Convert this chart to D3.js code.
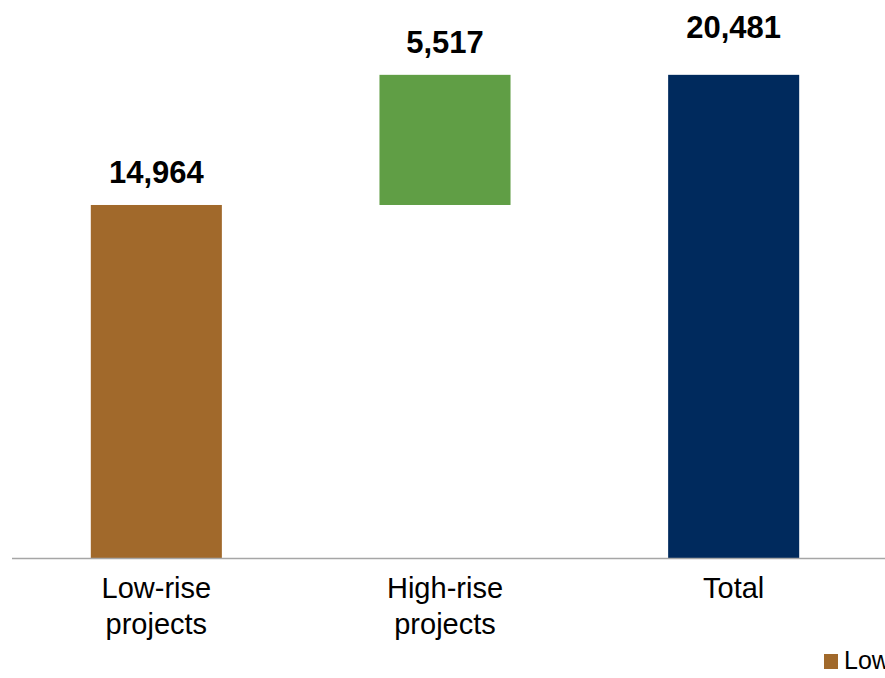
<!DOCTYPE html>
<html>
<head>
<meta charset="utf-8">
<script src="https://cdn.jsdelivr.net/npm/d3@7"></script>
<style>
  body { margin: 0; background: #fff; }
  svg { display: block; font-family: Arial, "Liberation Sans", sans-serif; }
</style>
</head>
<body>
<div id="chart"></div>
<script>
// chart values
var categories = ["Low-rise projects", "High-rise projects", "Total"];
var values = [14964, 5517, 20481];
var isTotal = [false, false, true];
var colors = ["#A1692B", "#609E45", "#002A5D"];

var width = 885, height = 678;

var svg = d3.select("#chart")
  .append("svg")
    .attr("width", width)
    .attr("height", height);

// running base for the waterfall steps
var running = 0;
var bars = categories.map(function (c, i) {
  var start = isTotal[i] ? 0 : running;
  var end = isTotal[i] ? values[i] : running + values[i];
  if (!isTotal[i]) running = end;
  return { name: c, value: values[i], start: start, end: end, color: colors[i], total: isTotal[i] };
});

var x = d3.scaleBand()
  .domain(categories)
  .range([12, 878])
  .paddingInner(0.546)
  .paddingOuter(0.273);

var y = d3.scaleLinear()
  .domain([0, 22000])
  .range([558, 39]);

svg.selectAll("rect.bar")
  .data(bars)
  .enter()
  .append("rect")
    .attr("class", "bar")
    .attr("x", function (d) { return x(d.name); })
    .attr("y", function (d) { return y(d.end); })
    .attr("width", x.bandwidth())
    .attr("height", function (d) { return y(d.start) - y(d.end); })
    .attr("fill", function (d) { return d.color; });

// axis baseline
svg.append("line")
  .attr("x1", 12)
  .attr("x2", width)
  .attr("y1", y(0) + 0.5)
  .attr("y2", y(0) + 0.5)
  .attr("stroke", "#a6a6a6")
  .attr("stroke-width", 1.5);

// value labels
svg.selectAll("text.value")
  .data(bars)
  .enter()
  .append("text")
    .attr("class", "value")
    .attr("x", function (d) { return x(d.name) + x.bandwidth() / 2; })
    .attr("y", function (d) { return y(d.end) - (d.total ? 37 : 22); })
    .attr("text-anchor", "middle")
    .attr("font-size", 31)
    .attr("font-weight", "bold")
    .attr("fill", "#000")
    .text(function (d) { return d3.format(",")(d.value); });

// category labels, wrapped on the space
var cat = svg.selectAll("text.cat")
  .data(bars)
  .enter()
  .append("text")
    .attr("class", "cat")
    .attr("x", function (d) { return x(d.name) + x.bandwidth() / 2; })
    .attr("y", 598)
    .attr("text-anchor", "middle")
    .attr("font-size", 29)
    .attr("fill", "#000");

cat.each(function (d) {
  var words = d.name.split(" ");
  var t = d3.select(this);
  words.forEach(function (w, i) {
    t.append("tspan")
      .attr("x", x(d.name) + x.bandwidth() / 2)
      .attr("dy", i === 0 ? 0 : 36)
      .text(w);
  });
});

// legend (runs off the right edge, as in the source)
var legend = svg.append("g")
  .attr("transform", "translate(824,654)");

var lx = 0;
bars.forEach(function (d) {
  var g = legend.append("g").attr("transform", "translate(" + lx + ",0)");
  g.append("rect")
    .attr("width", 14)
    .attr("height", 15)
    .attr("fill", d.color);
  var t = g.append("text")
    .attr("x", 20)
    .attr("y", 15)
    .attr("font-size", 25)
    .attr("fill", "#000")
    .text(d.name);
  lx += 20 + t.node().getComputedTextLength() + 20;
});
</script>
</body>
</html>
